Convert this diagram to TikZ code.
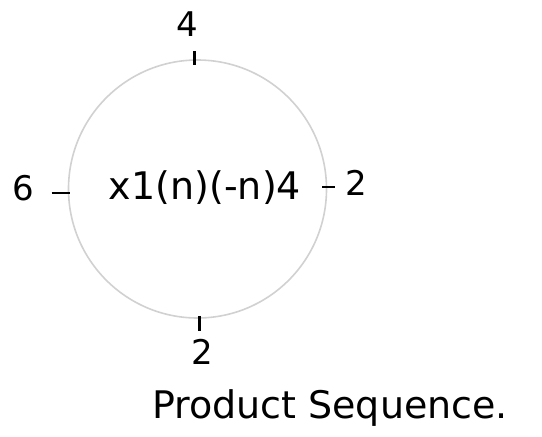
\documentclass[tikz,border=0pt]{standalone}
\usepackage{fontspec}
\setmainfont{DejaVu Sans}
\begin{document}
\begin{tikzpicture}[x=1pt,y=-1pt,
  lbl/.style={inner sep=0pt,font=\fontsize{34}{36}\selectfont,text=black},
  tick/.style={draw=black,line width=2.6pt},
  ring/.style={draw=black!18,line width=1.6pt}]
\useasboundingbox (0,0) rectangle (542,437);
\node[ring,circle,minimum size=258pt,inner sep=0pt] (c) at (197.5,189) {};
\node[lbl,font=\fontsize{38}{40}\selectfont] (mid) at (205,188) {x1(n)(-n)4};
\node[lbl] (top) at (187,24) {4};
\node[lbl] (left) at (23,188) {6};
\node[lbl] (right) at (356,183) {2};
\node[lbl] (bot) at (202,352) {2};
\node[lbl,font=\fontsize{38}{40}\selectfont] (title) at (330,408) {Product Sequence.};
\draw[tick] (c.north) ++(-3,-8) coordinate (t1) -- ++(0,14);
\draw[tick] (c.south) ++(2,-3) coordinate (b1) -- ++(0,15);
\draw[tick] (c.west) ++(-16,4) coordinate (l1) -- ++(18,0);
\draw[tick] (c.east) ++(-5,-2) coordinate (r1) -- ++(13,0);
\end{tikzpicture}
\end{document}
